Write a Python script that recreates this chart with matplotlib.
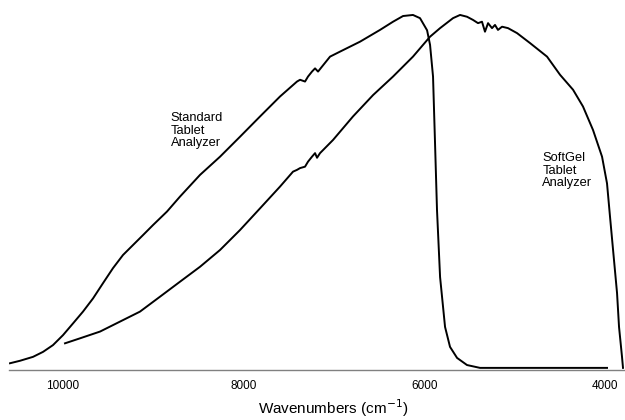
import matplotlib
matplotlib.use("Agg")
import matplotlib.pyplot as plt

plt.rcParams["font.family"] = ["Liberation Sans", "DejaVu Sans"]

# Standard Tablet Analyzer (wavenumber, relative intensity)
std_wn = [10587, 10476, 10332, 10221, 10111, 10000, 9889, 9779, 9668, 9557,
          9447, 9336, 9225, 9114, 9004, 8849, 8705, 8483, 8262, 8041,
          7819, 7598, 7410, 7376, 7321, 7288, 7244, 7210, 7177, 7133,
          7044, 6934, 6712, 6491, 6347, 6236, 6126, 6048, 5970, 5937,
          5904, 5882, 5860, 5826, 5771, 5716, 5638, 5528, 5384, 3978]
std_y = [1.9, 2.6, 3.7, 5.1, 7.0, 9.8, 13.1, 16.4, 20.1, 24.4,
         28.6, 32.3, 35.1, 37.9, 40.7, 44.5, 48.7, 54.8, 59.9, 65.5,
         71.2, 76.8, 81.0, 81.5, 81.0, 82.4, 83.8, 84.7, 83.8, 85.2,
         88.0, 89.4, 92.2, 95.5, 97.8, 99.4, 99.7, 98.8, 95.4, 91.3,
         82.4, 63.8, 44.9, 26.1, 12.1, 6.5, 3.4, 1.4, 0.6, 0.6]

# SoftGel Tablet Analyzer
sg_wn = [9978, 9812, 9590, 9369, 9148, 8926, 8705, 8483, 8262, 8041,
         7819, 7598, 7454, 7410, 7376, 7321, 7288, 7244, 7210, 7188,
         7155, 7011, 6790, 6568, 6347, 6126, 5937, 5826, 5683, 5605,
         5528, 5461, 5406, 5362, 5329, 5295, 5251, 5218, 5185, 5140,
         5074, 4974, 4830, 4642, 4498, 4354, 4244, 4133, 4033, 3978,
         3945, 3911, 3867, 3845, 3812, 3801]
sg_y = [7.5, 8.9, 10.8, 13.6, 16.4, 20.6, 24.8, 29.0, 33.7, 39.3,
        45.4, 51.5, 55.7, 56.2, 56.7, 57.1, 58.5, 59.9, 60.9, 59.6,
        60.9, 64.6, 71.2, 77.2, 82.4, 88.0, 93.6, 96.0, 98.8, 99.7,
        99.2, 98.3, 97.4, 97.8, 95.0, 97.4, 96.0, 96.9, 95.5, 96.4,
        96.0, 94.6, 91.8, 88.0, 82.9, 78.7, 74.0, 67.4, 59.9, 52.4,
        43.1, 33.7, 21.6, 12.1, 3.7, 0.6]

ticks = [10000, 8000, 6000, 4000]

fig = plt.figure(figsize=(6.25, 4.2), dpi=100)
ax = fig.add_axes([0.0144, 0.119, 0.984, 0.881])

ax.plot(std_wn, std_y, color="black", lw=1.4)
ax.plot(sg_wn, sg_y, color="black", lw=1.4)

ax.set_xlim(10598, 3790)
ax.set_ylim(0, 103.9)

for s in ["top", "left", "right"]:
    ax.spines[s].set_visible(False)
ax.spines["bottom"].set_color("#808080")
ax.spines["bottom"].set_linewidth(1.0)
ax.set_yticks([])
ax.set_xticks(ticks)
ax.set_xticklabels([str(t) for t in ticks])
ax.tick_params(axis="x", length=0, pad=7, labelsize=8.5)
ax.set_xlabel("Wavenumbers (cm$^{-1}$)", fontsize=11)
ax.xaxis.set_label_coords(0.528, -0.074)

# curve labels
ax.text(0.263, 0.697, "Standard\nTablet\nAnalyzer", transform=ax.transAxes,
        fontsize=9.3, va="top", ha="left", linespacing=1.05)
ax.text(0.867, 0.589, "SoftGel\nTablet\nAnalyzer", transform=ax.transAxes,
        fontsize=9.3, va="top", ha="left", linespacing=1.05)

fig.savefig("out.png", dpi=100)
